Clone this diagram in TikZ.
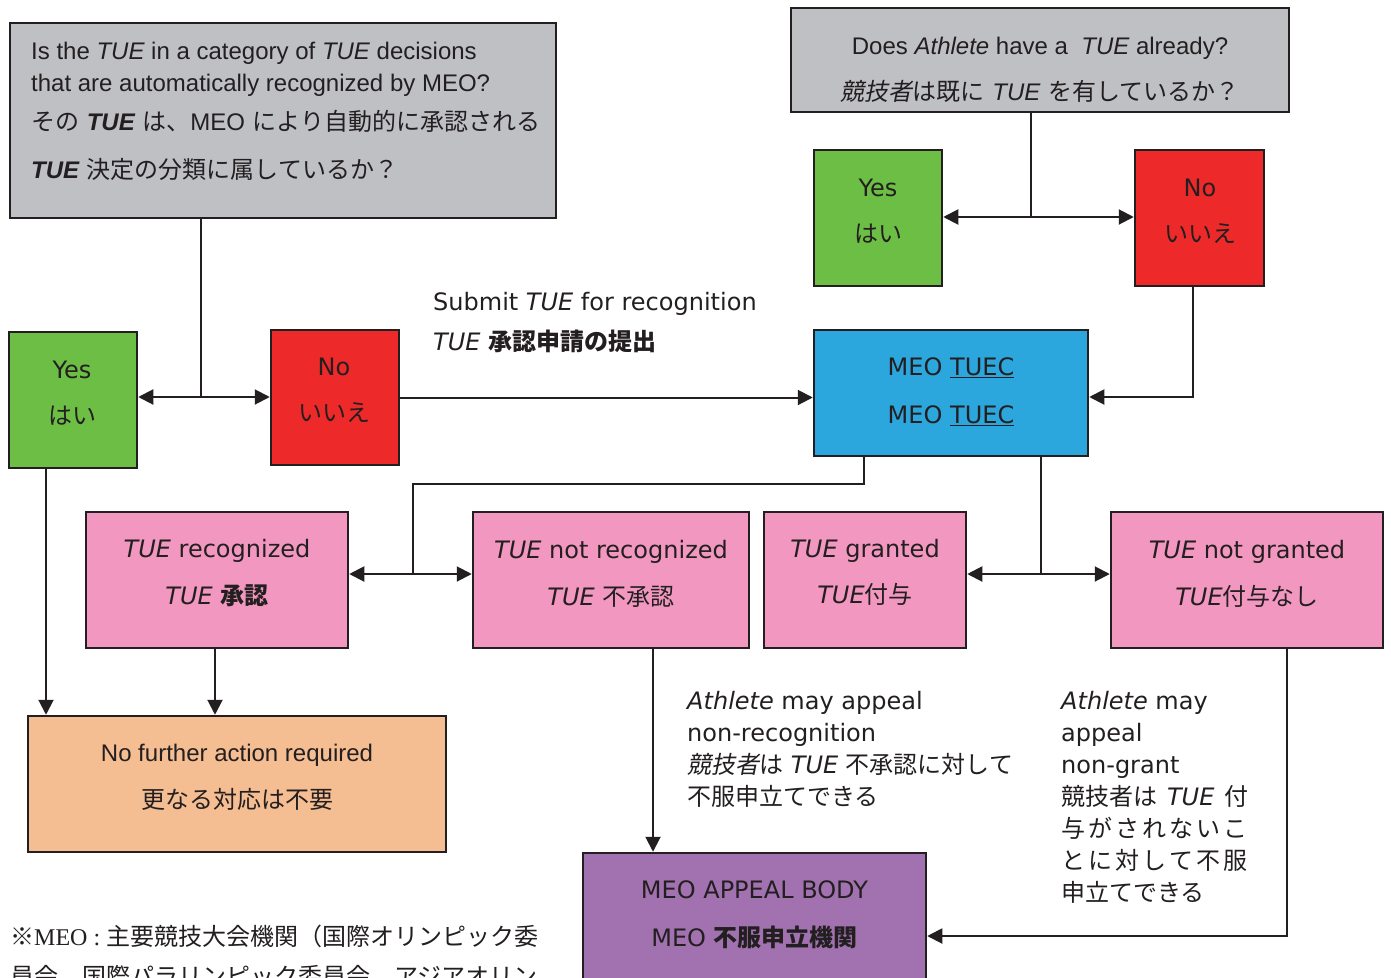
\documentclass[tikz,border=0pt]{standalone}
\usepackage{fontspec}
\setmainfont{DejaVu Sans}
\newfontfamily\arial{Liberation Sans}
\newfontfamily\tms{Liberation Serif}
\newfontfamily\jp{Noto Sans CJK JP}
\newfontfamily\jpsl{Noto Sans CJK JP}[FakeSlant=0.2]
\usetikzlibrary{arrows.meta}

\definecolor{qgray}{RGB}{191,192,196}
\definecolor{ygreen}{RGB}{109,190,69}
\definecolor{nred}{RGB}{237,41,41}
\definecolor{tblue}{RGB}{44,167,222}
\definecolor{dpink}{RGB}{242,152,192}
\definecolor{apeach}{RGB}{245,189,146}
\definecolor{bpurple}{RGB}{162,114,176}
\definecolor{ink}{RGB}{35,31,32}

\tikzset{
  box/.style={draw=ink, line width=2.5pt, inner sep=0pt},
  conn/.style={draw=ink, line width=2pt},
  arr/.style={conn, -{Triangle[length=15pt,width=15pt]}},
  tx/.style={inner sep=0pt, anchor=base, text=ink, font=\fontsize{24}{28}\selectfont},
  tl/.style={tx, anchor=base west},
}

\begin{document}
\begin{tikzpicture}[x=1pt,y=-1pt]
\useasboundingbox (0,0) rectangle (1391,977);
\fill[white] (0,0) rectangle (1391,977);
\clip (0,0) rectangle (1391,977);

% boxes
\node[box, fill=qgray, minimum width=546pt, minimum height=195pt] (q1) at (283,120.5) {};
\node[box, fill=qgray, minimum width=498pt, minimum height=104pt] (q2) at (1040,60) {};
\node[box, fill=ygreen, minimum width=128pt, minimum height=136pt] (yes2) at (878,218) {};
\node[box, fill=nred, minimum width=129pt, minimum height=136pt] (no2) at (1199.5,218) {};
\node[box, fill=ygreen, minimum width=128pt, minimum height=136pt] (yes1) at (73,400) {};
\node[box, fill=nred, minimum width=128pt, minimum height=135pt] (no1) at (335,397.5) {};
\node[box, fill=tblue, minimum width=274pt, minimum height=126pt] (tuec) at (951,393) {};
\node[box, fill=dpink, minimum width=262pt, minimum height=136pt] (rec) at (217,580) {};
\node[box, fill=dpink, minimum width=276pt, minimum height=136pt] (nrec) at (611,580) {};
\node[box, fill=dpink, minimum width=202pt, minimum height=136pt] (gr) at (865,580) {};
\node[box, fill=dpink, minimum width=272pt, minimum height=136pt] (ngr) at (1247,580) {};
\node[box, fill=apeach, minimum width=418pt, minimum height=136pt] (nfa) at (237,784) {};
\node[box, fill=bpurple, minimum width=343pt, minimum height=150pt] (mab) at (754.5,928) {};

% box texts
\node[tl] (q1a) at (31,59) {\arial Is the {\itshape TUE} in a category of {\itshape TUE} decisions};
\node[tl] (q1b) at (31,91) {\arial that are automatically recognized by MEO?};
\node[tl] (q1c) at (31,130) {{\jp その} {\arial\bfseries\itshape TUE} {\jp は、}{\arial MEO} {\jp により自動的に承認される}};
\node[tl] (q1d) at (31,178) {{\arial\bfseries\itshape TUE} {\jp 決定の分類に属しているか？}};

\node[tx] (q2a) at (1040,54) {\arial Does {\itshape Athlete} have a \ {\itshape TUE} already?};
\node[tx] (q2b) at (1040,100) {{\jpsl 競技者}{\jp は既に} {\arial\itshape TUE} {\jp を有しているか？}};

\node[tx] (yes2a) at (878,196) {Yes};
\node[tx] (yes2b) at (878,242) {\jp はい};
\node[tx] (no2a) at (1200,196) {No};
\node[tx] (no2b) at (1200,242) {\jp いいえ};
\node[tx] (yes1a) at (72,378) {Yes};
\node[tx] (yes1b) at (72,424) {\jp はい};
\node[tx] (no1a) at (334,375) {No};
\node[tx] (no1b) at (334,421) {\jp いいえ};

\node[tx] (tueca) at (951,375) {MEO \underline{TUEC}};
\node[tx] (tuecb) at (951,423) {MEO \underline{TUEC}};

\node[tx] (reca) at (217,557) {{\itshape TUE} recognized};
\node[tx] (recb) at (217,604) {{\itshape TUE} {\jp\bfseries 承認}};
\node[tx] (nreca) at (611,558) {{\itshape TUE} not recognized};
\node[tx] (nrecb) at (611,605) {{\itshape TUE} {\jp 不承認}};
\node[tx] (gra) at (865,557) {{\itshape TUE} granted};
\node[tx] (grb) at (865,603) {{\itshape TUE}{\jp 付与}};
\node[tx] (ngra) at (1247,558) {{\itshape TUE} not granted};
\node[tx] (ngrb) at (1247,605) {{\itshape TUE}{\jp 付与なし}};

\node[tx] (nfaa) at (237,761) {\arial No further action required};
\node[tx] (nfab) at (237,808) {\jp 更なる対応は不要};

\node[tx] (maba) at (754.5,898) {MEO APPEAL BODY};
\node[tx] (mabb) at (754.5,946) {MEO {\jp\bfseries 不服申立機関}};

% free labels
\node[tl] (suba) at (433,310) {Submit {\itshape TUE} for recognition};
\node[tl] (subb) at (433,350) {{\itshape TUE} {\jp\bfseries 承認申請の提出}};

\node[tl] (apa) at (687,709) {{\itshape Athlete} may appeal};
\node[tl] (apb) at (687,741) {non-recognition};
\node[tl] (apc) at (687,773) {{\jpsl 競技者}{\jp は} {\itshape TUE} {\jp 不承認に対して}};
\node[tl] (apd) at (687,805) {\jp 不服申立てできる};

\node[tl] (aga) at (1061,709) {{\itshape Athlete} may};
\node[tl] (agb) at (1061,741) {appeal};
\node[tl] (agc) at (1061,773) {non-grant};
\node[tl] (agd) at (1061,805) {\makebox[187pt][l]{\jp 競技者は\hfill{\fontspec{DejaVu Sans}\itshape TUE}\hfill 付}};
\node[tl] (age) at (1061,837) {\makebox[186pt][l]{\jp 与\hfill が\hfill さ\hfill れ\hfill な\hfill い\hfill こ}};
\node[tl] (agf) at (1061,869) {\makebox[186pt][l]{\jp と\hfill に\hfill 対\hfill し\hfill て\hfill 不\hfill 服}};
\node[tl] (agg) at (1061,901) {\jp 申立てできる};

\node[tl] (fna) at (10,945) {{\jp ※}{\tms MEO : }{\jp 主要競技大会機関（国際オリンピック委}};
\node[tl] (fnb) at (10,985) {\jp 員会、国際パラリンピック委員会、アジアオリン};

% connectors
\coordinate (j1) at (201,397);
\draw[conn] (q1.south -| j1) -- (j1);
\draw[arr] (j1) -- (yes1.east |- j1);
\draw[arr] (j1) -- (no1.west |- j1);

\coordinate (j2) at (1031,217);
\draw[conn] (q2.south -| j2) -- (j2);
\draw[arr] (j2) -- (yes2.east |- j2);
\draw[arr] (j2) -- (no2.west |- j2);

\draw[arr] (no1.east) -- (no1.east -| tuec.west);

\coordinate (c2) at (1193,397);
\draw[arr] (no2.south -| c2) -- (c2) -- (c2 -| tuec.east);

\coordinate (c3a) at (864,484);
\coordinate (c3b) at (413,484);
\coordinate (j3) at (413,574);
\draw[conn] (tuec.south -| c3a) -- (c3a) -- (c3b) -- (j3);
\draw[arr] (j3) -- (rec.east |- j3);
\draw[arr] (j3) -- (nrec.west |- j3);

\coordinate (j4) at (1041,574);
\draw[conn] (tuec.south -| j4) -- (j4);
\draw[arr] (j4) -- (gr.east |- j4);
\draw[arr] (j4) -- (ngr.west |- j4);

\coordinate (c5) at (46,716);
\draw[arr] (yes1.south -| c5) -- (c5 |- nfa.north);
\coordinate (c8) at (215,716);
\draw[arr] (rec.south -| c8) -- (c8 |- nfa.north);

\coordinate (c6) at (653,700);
\draw[arr] (nrec.south -| c6) -- (c6 |- mab.north);

\coordinate (c7) at (1287,936);
\draw[arr] (ngr.south -| c7) -- (c7) -- (c7 -| mab.east);
\end{tikzpicture}
\end{document}
